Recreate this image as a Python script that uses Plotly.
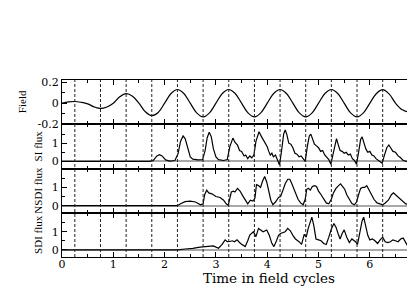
import plotly.graph_objects as go
from plotly.subplots import make_subplots

# ---------------- data ----------------
field_t = [0.0, 0.125, 0.25, 0.375, 0.5, 0.625, 0.75, 0.875, 1.0, 1.125, 1.25, 1.375,
           1.5, 1.625, 1.75, 1.875, 2.0, 2.125, 2.25, 2.375, 2.5, 2.625, 2.75, 2.875,
           3.0, 3.125, 3.25, 3.375, 3.5, 3.625, 3.75, 3.875, 4.0, 4.125, 4.25, 4.375,
           4.5, 4.625, 4.75, 4.875, 5.0, 5.125, 5.25, 5.375, 5.5, 5.625, 5.75, 5.875,
           6.0, 6.125, 6.25, 6.375, 6.5, 6.625, 6.75, 6.875, 7.0]
field_v = [0.0, 0.012, 0.016, 0.008, -0.006, -0.035, -0.05, -0.036, 0.0, 0.06, 0.09, 0.066,
           0.0, -0.082, -0.118, -0.088, 0.0, 0.092, 0.13, 0.092, 0.0, -0.092, -0.13, -0.092,
           0.0, 0.092, 0.13, 0.092, 0.0, -0.092, -0.13, -0.092, 0.0, 0.092, 0.13, 0.092,
           0.0, -0.092, -0.13, -0.092, 0.0, 0.092, 0.13, 0.092, 0.0, -0.092, -0.13, -0.092,
           0.0, 0.09, 0.128, 0.088, 0.0, -0.06, -0.08, -0.052, 0.0]

si_t = [0, 1.7, 1.78, 1.85, 1.9, 1.95, 2.02, 2.1, 2.2, 2.26, 2.31, 2.36, 2.4, 2.45, 2.5, 2.55,
        2.65, 2.74, 2.79, 2.83, 2.87, 2.91, 2.95, 3.0, 3.05, 3.15, 3.22, 3.27, 3.33, 3.37,
        3.42, 3.46, 3.5, 3.55, 3.58, 3.62, 3.66, 3.7, 3.74, 3.78, 3.84, 3.88, 3.92, 3.96,
        4.0, 4.03, 4.06, 4.09, 4.12, 4.16, 4.2, 4.24, 4.28, 4.32, 4.35, 4.38, 4.42, 4.46,
        4.5, 4.54, 4.58, 4.62, 4.66, 4.7, 4.74, 4.78, 4.82, 4.85, 4.88, 4.92, 4.96, 5.0,
        5.04, 5.08, 5.12, 5.16, 5.2, 5.24, 5.28, 5.32, 5.35, 5.38, 5.42, 5.46, 5.5, 5.54,
        5.58, 5.62, 5.66, 5.7, 5.74, 5.78, 5.82, 5.85, 5.88, 5.92, 5.96, 6.0, 6.04, 6.08,
        6.12, 6.18, 6.24, 6.28, 6.33, 6.37, 6.41, 6.45, 6.5, 6.55, 6.6, 6.65, 6.72, 6.8, 6.88]
si_v = [0, 0, 0.05, 0.3, 0.37, 0.3, 0.08, 0.02, 0.05, 0.4, 1.1, 1.4, 1.25, 0.7, 0.25, 0.12,
        0.08, 0.1, 0.6, 1.3, 1.6, 1.35, 0.7, 0.25, 0.1, 0.05, 0.1, 0.8, 1.28, 1.05,
        0.9, 0.6, 0.55, 0.3, 0.35, 0.15, 0.3, 0.2, 0.35, 1.1, 1.63, 1.4, 1.2, 1.0,
        0.8, 0.55, 0.35, 0.45, 0.25, 0.35, 0.05, -0.2, 0.6, 1.5, 1.72, 1.5, 1.0, 0.95,
        0.75, 0.45, 0.4, 0.25, 0.3, 0.12, 0.0, 0.8, 1.4, 1.5, 1.3, 0.95, 0.85, 0.75,
        0.55, 0.6, 0.35, 0.2, 0.1, -0.15, 0.4, 1.0, 1.25, 0.95, 0.6, 0.55, 0.45, 0.5,
        0.35, 0.4, 0.15, 0.05, -0.15, 0.5, 1.2, 1.35, 1.0, 0.7, 0.5, 0.55, 0.35, 0.3,
        0.15, 0.0, -0.1, 0.3, 0.75, 0.9, 0.75, 0.55, 0.5, 0.3, 0.2, 0.05, 0.0, 0.08, 0.1]

nsdi_t = [0, 2.25, 2.32, 2.4, 2.5, 2.6, 2.7, 2.75, 2.78, 2.82, 2.86, 2.92, 3.0, 3.08, 3.15,
          3.2, 3.24, 3.27, 3.3, 3.34, 3.37, 3.42, 3.47, 3.52, 3.57, 3.62, 3.67, 3.72, 3.76,
          3.79, 3.83, 3.87, 3.91, 3.95, 3.99, 4.03, 4.07, 4.11, 4.16, 4.22, 4.26, 4.3, 4.35,
          4.4, 4.44, 4.48, 4.52, 4.56, 4.6, 4.65, 4.7, 4.74, 4.77, 4.8, 4.84, 4.88, 4.92,
          4.96, 5.0, 5.05, 5.1, 5.15, 5.2, 5.25, 5.29, 5.34, 5.39, 5.43, 5.47, 5.51, 5.55,
          5.6, 5.65, 5.7, 5.74, 5.78, 5.82, 5.86, 5.9, 5.94, 5.98, 6.03, 6.08, 6.14, 6.2,
          6.25, 6.3, 6.36, 6.42, 6.46, 6.5, 6.56, 6.62, 6.7, 6.78, 6.88]
nsdi_v = [0, 0, 0.12, 0.22, 0.25, 0.2, 0.05, 0.1, 0.6, 0.85, 0.7, 0.65, 0.5, 0.45, 0.3,
          0.1, 0.02, 0.4, 0.75, 0.8, 0.75, 0.95, 0.8, 0.55, 0.3, 0.1, 0.3, 0.25, 0.4,
          1.15, 1.1, 1.0, 1.35, 1.6, 1.3, 0.7, 0.3, 0.05, 0.2, 0.45, 0.5, 0.8, 1.2,
          1.45, 1.45, 1.2, 0.9, 0.6, 0.35, 0.15, 0.05, 0.35, 0.9, 0.95, 0.85, 1.05, 1.1,
          1.05, 0.8, 0.6, 0.35, 0.15, 0.1, 0.35, 0.7, 0.95, 1.1, 1.2, 1.05, 0.9, 0.6,
          0.35, 0.12, 0.05, 0.2, 0.6, 0.95, 1.0, 1.0, 1.1, 0.9, 0.6, 0.35, 0.15, 0.1,
          0.05, 0.15, 0.3, 0.6, 0.7, 0.6, 0.45, 0.25, 0.1, 0.05, 0.1]

sdi_t = [0, 2.25, 2.4, 2.55, 2.69, 2.8, 2.95, 3.05, 3.12, 3.18, 3.22, 3.27, 3.32, 3.36, 3.41,
         3.48, 3.57, 3.62, 3.66, 3.73, 3.78, 3.83, 3.88, 3.92, 3.99, 4.04, 4.09, 4.13, 4.18,
         4.22, 4.26, 4.3, 4.35, 4.4, 4.45, 4.5, 4.55, 4.62, 4.67, 4.72, 4.76, 4.8, 4.84,
         4.87, 4.91, 4.95, 5.0, 5.05, 5.1, 5.15, 5.2, 5.25, 5.3, 5.34, 5.38, 5.42, 5.46,
         5.5, 5.55, 5.6, 5.65, 5.72, 5.76, 5.8, 5.85, 5.88, 5.92, 5.96, 6.0, 6.05, 6.1,
         6.15, 6.2, 6.25, 6.3, 6.35, 6.4, 6.45, 6.5, 6.55, 6.6, 6.65, 6.7, 6.75, 6.8, 6.85, 6.88]
sdi_v = [0, 0, 0.05, 0.08, 0.15, 0.18, 0.22, 0.09, 0.3, 0.55, 0.45, 0.46, 0.5, 0.45, 0.55,
         0.35, 0.18, 0.5, 0.82, 1.0, 0.73, 1.18, 1.05, 1.0, 1.09, 0.8, 0.36, 0.18, 0.5,
         0.8, 0.9, 0.95, 1.0, 1.18, 1.05, 0.8, 0.6, 0.45, 0.3, 0.85, 0.7, 1.2, 1.6,
         1.8, 1.3, 0.6, 0.55, 0.5, 0.35, 0.3, 0.7, 1.15, 1.45, 1.25, 0.9, 0.6, 0.9,
         1.1, 0.7, 0.4, 0.6, 0.45, 0.3, 0.9, 1.6, 1.8, 1.3, 0.8, 0.55, 0.6, 0.5,
         0.35, 0.55, 0.7, 0.45, 0.4, 0.45, 0.55, 0.5, 0.45, 0.6, 0.65, 0.4, 0.15, 0.05, 0.35, 0.2]

marker_times = [0.25, 0.75, 1.25, 1.75, 2.25, 2.75, 3.25, 3.75, 4.25, 4.75, 5.25, 5.75, 6.25, 6.75]
x_ticks = [0, 1, 2, 3, 4, 5, 6]
panel_titles = ["Field", "SI flux", "NSDI flux", "SDI flux"]
field_ticks = [-0.2, 0, 0.2]
field_ticktext = ["-0.2", "0", "0.2"]
flux_ticks = [0, 1]

# ---------------- figure ----------------
SERIF_H = "DejaVu Serif"
SERIF_V = "Liberation Serif"
PAGE_PAD = 8  # default body margin of the html page

fig = make_subplots(rows=4, cols=1, shared_xaxes=True, vertical_spacing=0)

series = [(field_t, field_v), (si_t, si_v), (nsdi_t, nsdi_v), (sdi_t, sdi_v)]
for i, (t, v) in enumerate(series, start=1):
    fig.add_trace(go.Scatter(x=t, y=v, mode="lines",
                             line=dict(color="black", width=1.2,
                                       shape="spline" if i == 1 else "linear",
                                       smoothing=1.0 if i == 1 else None),
                             showlegend=False, hoverinfo="skip"), row=i, col=1)

for i in range(1, 5):
    fig.update_xaxes(row=i, col=1, range=[0, 6.88], automargin=False, showline=True,
                     linecolor="black", linewidth=1, mirror="ticks", ticks="inside",
                     ticklen=5, tickwidth=1, tickcolor="black", tickvals=x_ticks,
                     showgrid=False, zeroline=False,
                     minor=dict(ticks="inside", dtick=0.5, tick0=0, ticklen=3,
                                tickcolor="black", showgrid=False),
                     showticklabels=(i == 4),
                     tickfont=dict(family=SERIF_H, size=11, color="black"))
fig.update_xaxes(row=4, col=1, ticklabelstandoff=-3)

fig.update_yaxes(row=1, col=1, range=[-0.2, 0.22], tickvals=field_ticks, ticktext=field_ticktext,
                 minor=dict(ticks="inside", dtick=0.1, tick0=0, ticklen=3, tickcolor="black"))
for i in range(2, 5):
    fig.update_yaxes(row=i, col=1, range=[-0.39, 2.04], tickvals=flux_ticks,
                     zeroline=True, zerolinecolor="#a8a8a8", zerolinewidth=1.5,
                     minor=dict(ticks="inside", dtick=0.5, tick0=0, ticklen=3, tickcolor="black"))
for i in range(1, 5):
    fig.update_yaxes(row=i, col=1, automargin=False, showline=True, linecolor="black",
                     linewidth=1, mirror=True, ticks="inside", ticklen=5, tickcolor="black",
                     showgrid=False, tickfont=dict(family=SERIF_H, size=11, color="black"))
fig.update_yaxes(row=1, col=1, zeroline=False)

shapes = []
for mt in marker_times:
    shapes.append(dict(type="line", xref="x", yref="paper", x0=mt, x1=mt, y0=0, y1=1,
                       line=dict(color="#222222", width=1, dash="3px,2px"), layer="above"))

annotations = []
title_x = [-40, -24, -24, -24]
yrefs = ["y domain", "y2 domain", "y3 domain", "y4 domain"]
for k, name in enumerate(panel_titles):
    annotations.append(dict(text=name, xref="paper", x=0, xshift=title_x[k], xanchor="center",
                            yref=yrefs[k], y=0.5, yanchor="middle", textangle=-90,
                            showarrow=False, font=dict(family=SERIF_V, size=11, color="black")))
annotations.append(dict(text="Time in field cycles", xref="x", x=4.03, xanchor="center",
                        yref="paper", y=0, yshift=-21, yanchor="middle", showarrow=False,
                        font=dict(family=SERIF_H, size=13.5, color="black")))

fig.update_layout(width=415 - PAGE_PAD, height=291 - PAGE_PAD,
                  margin=dict(l=62 - PAGE_PAD, r=0, t=80 - PAGE_PAD, b=34),
                  paper_bgcolor="white", plot_bgcolor="white",
                  shapes=shapes, annotations=annotations)

fig.write_html("out.html")
